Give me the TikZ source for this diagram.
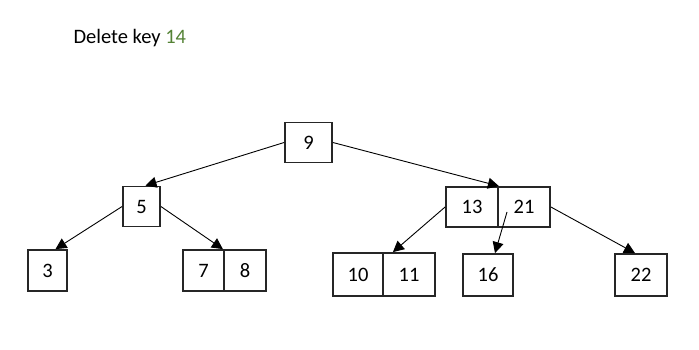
\documentclass[tikz,border=0pt]{standalone}
\usepackage{fontspec}
\setmainfont{Carlito}
\usetikzlibrary{arrows.meta}
\definecolor{keygreen}{RGB}{84,130,53}
\begin{document}
\begin{tikzpicture}[x=1pt,y=-1pt,font=\fontsize{20.5}{24}\selectfont,
  keybox/.style={draw=black!85,line width=1.8pt,inner sep=0pt,minimum height=40pt},
  link/.style={line width=.9pt,-{Triangle[length=11pt,width=11pt]}}]
 \useasboundingbox (0,0) rectangle (699,350);
 \node[anchor=west] (title) at (70,38) {Delete key {\color{keygreen}14}};
 \node[keybox,minimum width=47pt] (n9) at (308.5,142.5) {9};
 \node[keybox,minimum width=37pt] (n5) at (141.5,206.5) {5};
 \node[keybox,minimum width=39pt,minimum height=41pt] (n3) at (47.5,270.5) {3};
 \node[keybox,minimum width=41pt,minimum height=41pt] (n7) at (203.5,270.5) {7};
 \node[keybox,minimum width=42pt,minimum height=41pt] (n8) at (245,270.5) {8};
 \node[keybox,minimum width=52pt] (n13) at (472,207) {13};
 \node[keybox,minimum width=52pt] (n21) at (524,207) {21};
 \node[keybox,minimum width=50pt,minimum height=43pt] (n10) at (358,274.5) {10};
 \node[keybox,minimum width=52pt,minimum height=43pt] (n11) at (409,274.5) {11};
 \node[keybox,minimum width=50pt,minimum height=42pt] (n16) at (488,275) {16};
 \node[keybox,minimum width=52pt,minimum height=42pt] (n22) at (641,275) {22};
 \draw[link] (n9.west)--([xshift=4]n5.north);
 \draw[link] (n9.east)--(n13.north east);
 \draw[link] (n5.west)--([xshift=8]n3.north);
 \draw[link] (n5.east)--([xshift=-2]n7.north east);
 \draw[link] (n13.west)--([xshift=9]n10.north east);
 \draw[link] ([shift={(-17,5)}]n21.center)--([xshift=7]n16.north);
 \draw[link] (n21.east)--([xshift=-6]n22.north);
\end{tikzpicture}
\end{document}
